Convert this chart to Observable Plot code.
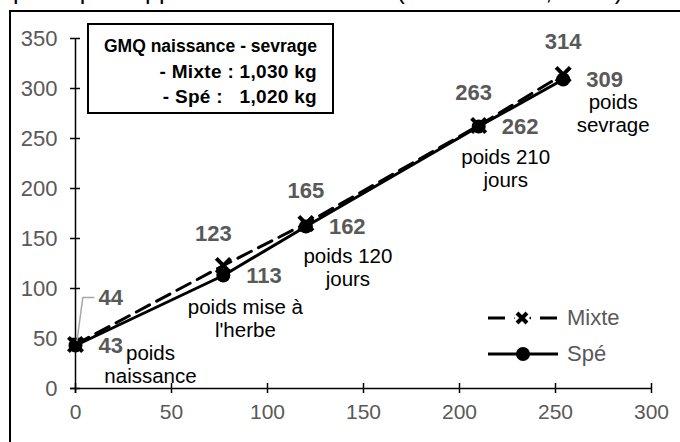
<!DOCTYPE html>
<html><head><meta charset="utf-8">
<script src="https://cdn.jsdelivr.net/npm/d3@7"></script>
<script src="https://cdn.jsdelivr.net/npm/@observablehq/plot@0.6"></script>
<style>
body{margin:0;background:#fff;}
#wrap{position:relative;width:680px;height:442px;overflow:hidden;font-family:Arial,"Liberation Sans",sans-serif;}
#title{position:absolute;left:13px;top:-22px;font-size:25px;line-height:25px;white-space:nowrap;color:#000;}
#frame{position:absolute;left:9px;top:10px;width:720px;height:520px;border:2px solid #000;box-sizing:border-box;}
#chart{position:absolute;left:0;top:0;}
#box{position:absolute;left:87px;top:23px;width:247px;height:91px;box-sizing:border-box;border:2px solid #000;background:#fff;font-weight:bold;line-height:25px;text-align:right;padding:9px 15px 0 0;white-space:pre;color:#000;}
#box .t{font-size:17.5px;}
#box .l{font-size:19px;letter-spacing:0.3px;}
#legend{position:absolute;left:486px;top:300px;font-size:22px;color:#595959;}
#legend .row{display:flex;align-items:center;height:36px;}
#legend svg{margin-right:5px;}
</style></head><body>
<div id="wrap">
<div id="title">poids par rapport à la naissance – (veaux mâles, 2021)</div>
<div id="frame"></div>
<div id="chart"></div>
<div id="box"></div>
<div id="legend"></div>
</div>
<script>
// ---- data ----
const days = [0, 77, 120, 210, 254];
const mixte = [44, 123, 165, 263, 314];
const spe = [43, 113, 162, 262, 309];
const stages = ["poids\nnaissance", "poids mise à\nl'herbe", "poids 120\njours", "poids 210\njours", "poids\nsevrage"];
const seriesNames = ["Mixte", "Spé"];
const xTicks = [0, 50, 100, 150, 200, 250, 300];
const yTicks = [0, 50, 100, 150, 200, 250, 300, 350];
const boxLines = ["GMQ naissance - sevrage", "- Mixte : 1,030 kg", "- Spé :   1,020 kg"];

const mixteData = days.map((d, i) => ({x: d, y: mixte[i]}));
const speData = days.map((d, i) => ({x: d, y: spe[i]}));

const grey = "#595959";
const font = "Arial, 'Liberation Sans', sans-serif";

// label offsets (pixels) relative to their points
const mixteLabelOffsets = [[23, -47], [-10, -32], [0, -33], [-5, -33], [0, -33]];
const stageOffsets = [[75, 19], [22, 43], [42, 41], [27, 42], [50, 34]];

const marks = [
  // axis lines
  Plot.ruleY([0], {x1: -2.6, x2: 300, stroke: "#000", strokeWidth: 1.5}),
  Plot.ruleX([0], {y1: -5, y2: 350, stroke: "#000", strokeWidth: 1.5}),
  // crossing ticks
  Plot.ruleY(yTicks, {y: d => d, x1: -2.6, x2: 2.6, stroke: "#000", strokeWidth: 1.5}),
  Plot.ruleX(xTicks, {x: d => d, y1: -5, y2: 5, stroke: "#000", strokeWidth: 1.5}),
  Plot.axisY({ticks: yTicks, tickSize: 0, tickPadding: 18, fill: grey, fontSize: 22, fontFamily: font, label: null}),
  Plot.axisX({ticks: xTicks, tickSize: 0, tickPadding: 16, fill: grey, fontSize: 21, fontFamily: font, label: null}),
  // series
  Plot.line(mixteData, {x: "x", y: "y", stroke: "#000", strokeWidth: 3, strokeDasharray: "15,8"}),
  Plot.line(speData, {x: "x", y: "y", stroke: "#000", strokeWidth: 3}),
  Plot.dot(mixteData, {x: "x", y: "y", symbol: "times", r: 6.5, stroke: "#000", strokeWidth: 4}),
  Plot.dot(speData, {x: "x", y: "y", symbol: "circle", r: 7, fill: "#000", stroke: null}),
  // Mixte value labels (above); the first one sits to the right with a leader line
  ...mixteData.map((d, i) => Plot.text([d], {x: "x", y: "y", text: p => String(p.y), dx: mixteLabelOffsets[i][0], dy: mixteLabelOffsets[i][1], textAnchor: i === 0 ? "start" : "middle", fill: grey, fontSize: 22, fontWeight: "bold", fontFamily: font})),
  Plot.line([[days[0] + 0.8, mixte[0] + 4], [days[0] + 3.8, mixte[0] + 47], [days[0] + 9.5, mixte[0] + 47]], {stroke: "#a6a6a6", strokeWidth: 1.5}),
  // Spé value labels (right)
  Plot.text(speData, {x: "x", y: "y", text: d => String(d.y), dx: 23, textAnchor: "start", fill: grey, fontSize: 22, fontWeight: "bold", fontFamily: font}),
  // stage labels
  ...speData.map((d, i) => Plot.text([d], {x: "x", y: "y", text: () => stages[i], dx: stageOffsets[i][0], dy: stageOffsets[i][1], fill: "#000", fontSize: 20.5, fontFamily: font, lineHeight: 1.12}))
];

const chart = Plot.plot({
  width: 680,
  height: 442,
  marginLeft: 75,
  marginRight: 29,
  marginTop: 38,
  marginBottom: 54,
  x: {domain: [0, 300]},
  y: {domain: [0, 350]},
  style: {fontFamily: font, fontSize: "16px", background: "transparent", overflow: "visible"},
  marks
});
document.getElementById("chart").append(chart);

const box = document.getElementById("box");
boxLines.forEach((line, i) => {
  const div = document.createElement("div");
  div.className = i === 0 ? "t" : "l";
  div.textContent = line;
  box.append(div);
});

// legend
const leg = document.getElementById("legend");
seriesNames.forEach((name, i) => {
  const row = document.createElement("div");
  row.className = "row";
  const marker = i === 0
    ? `<line x1="2" y1="10" x2="72" y2="10" stroke="#000" stroke-width="3" stroke-dasharray="17,9"/><path d="M30,4L42,16M42,4L30,16" stroke="#fff" stroke-width="10"/><path d="M31,5L41,15M41,5L31,15" stroke="#000" stroke-width="4"/>`
    : `<line x1="2" y1="10" x2="72" y2="10" stroke="#000" stroke-width="3"/><circle cx="37" cy="10" r="7" fill="#000"/>`;
  row.innerHTML = `<svg width="76" height="20">${marker}</svg><span>${name}</span>`;
  leg.append(row);
});
</script>
</body></html>
